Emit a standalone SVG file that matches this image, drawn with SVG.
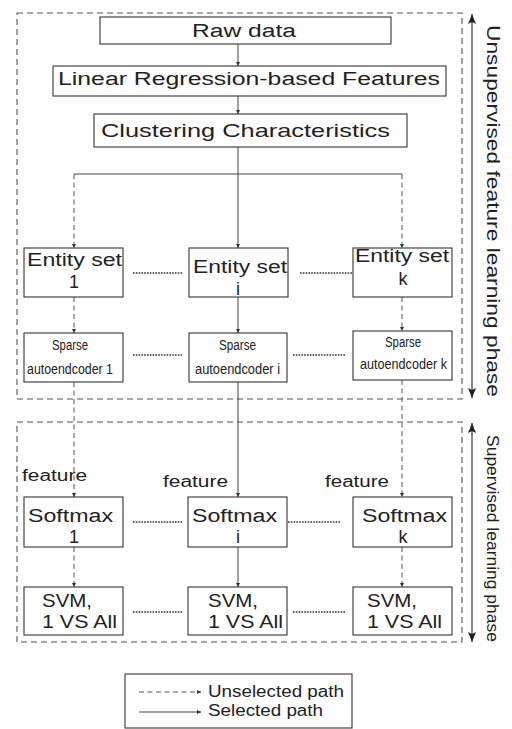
<svg xmlns="http://www.w3.org/2000/svg" width="512" height="729" viewBox="0 0 512 729">
<defs>
<marker id="ah" viewBox="0 0 6 6" refX="6" refY="3" markerWidth="4" markerHeight="4" orient="auto" markerUnits="userSpaceOnUse">
<path d="M0,0 L6,3 L0,6 z" fill="#333"/>
</marker>
<marker id="big" viewBox="0 0 10 10" refX="10" refY="5" markerWidth="10" markerHeight="10" orient="auto" markerUnits="userSpaceOnUse">
<path d="M0,1 L10,5 L0,9 L2,5 z" fill="#222"/>
</marker>
<marker id="bigs" viewBox="0 0 10 10" refX="0" refY="5" markerWidth="10" markerHeight="10" orient="auto" markerUnits="userSpaceOnUse">
<path d="M10,1 L0,5 L10,9 L8,5 z" fill="#222"/>
</marker>
</defs>
<style>
.box{fill:#fff;stroke:#333;stroke-width:1.1}
.frame{fill:none;stroke:#555;stroke-width:1.1;stroke-dasharray:6 4}
.sol{fill:none;stroke:#444;stroke-width:1}
.das{fill:none;stroke:#555;stroke-width:1;stroke-dasharray:5 3.5}
.dot{fill:none;stroke:#333;stroke-width:1.6;stroke-dasharray:1.6 1.2}
text{font-family:"Liberation Sans",Arial,sans-serif;fill:#222}
.t18{font-size:18px}
.t19{font-size:19px}
.t14{font-size:14px}
.t16{font-size:16px}
.mid{text-anchor:middle}
</style>

<g id="frames">
<rect class="frame" x="17" y="13" width="445" height="386"/>
<rect class="frame" x="17" y="422" width="445" height="220"/>
</g>

<g id="phase-arrows">
<line x1="472" y1="14" x2="472" y2="398" stroke="#222" stroke-width="1.1" marker-start="url(#bigs)" marker-end="url(#big)"/>
<line x1="472" y1="423" x2="472" y2="642" stroke="#222" stroke-width="1.1" marker-start="url(#bigs)" marker-end="url(#big)"/>
<text class="t19" x="487" y="25" transform="rotate(90 487 25)" textLength="372" lengthAdjust="spacingAndGlyphs">Unsupervised feature learning phase</text>
<text class="t16" x="487" y="435" transform="rotate(90 487 435)" textLength="207" lengthAdjust="spacingAndGlyphs">Supervised learning phase</text>
</g>

<g id="connectors">
<line class="sol" x1="238" y1="44" x2="238" y2="66" marker-end="url(#ah)"/>
<line class="sol" x1="238" y1="96" x2="238" y2="114" marker-end="url(#ah)"/>
<line class="sol" x1="238" y1="147" x2="238" y2="248" marker-end="url(#ah)"/>
<line class="sol" x1="74" y1="174" x2="402" y2="174"/>
<line class="das" x1="74" y1="174" x2="74" y2="248" marker-end="url(#ah)"/>
<line class="das" x1="402" y1="174" x2="402" y2="248" marker-end="url(#ah)"/>
<line class="das" x1="74" y1="297" x2="74" y2="333" marker-end="url(#ah)"/>
<line class="sol" x1="238" y1="297" x2="238" y2="333" marker-end="url(#ah)"/>
<line class="das" x1="402" y1="297" x2="402" y2="331" marker-end="url(#ah)"/>
<line class="das" x1="74" y1="382" x2="74" y2="497" marker-end="url(#ah)"/>
<line class="sol" x1="238" y1="382" x2="238" y2="497" marker-end="url(#ah)"/>
<line class="das" x1="402" y1="380" x2="402" y2="497" marker-end="url(#ah)"/>
<line class="das" x1="74" y1="547" x2="74" y2="587" marker-end="url(#ah)"/>
<line class="sol" x1="238" y1="547" x2="238" y2="587" marker-end="url(#ah)"/>
<line class="das" x1="402" y1="547" x2="402" y2="587" marker-end="url(#ah)"/>
<line class="dot" x1="133" y1="273" x2="183" y2="273"/>
<line class="dot" x1="300" y1="273" x2="352" y2="273"/>
<line class="dot" x1="133" y1="355" x2="183" y2="355"/>
<line class="dot" x1="293" y1="355" x2="345" y2="355"/>
<line class="dot" x1="133" y1="522" x2="183" y2="522"/>
<line class="dot" x1="288" y1="522" x2="340" y2="522"/>
<line class="dot" x1="133" y1="612" x2="183" y2="612"/>
<line class="dot" x1="293" y1="612" x2="345" y2="612"/>
<text class="t16" x="22" y="481" textLength="65" lengthAdjust="spacingAndGlyphs">feature</text>
<text class="t16" x="163" y="487" textLength="65" lengthAdjust="spacingAndGlyphs">feature</text>
<text class="t16" x="325" y="487" textLength="64" lengthAdjust="spacingAndGlyphs">feature</text>
</g>

<g id="raw-data">
<rect class="box" x="100" y="17" width="291" height="27"/>
<text class="t18" x="192" y="37" textLength="104" lengthAdjust="spacingAndGlyphs">Raw data</text>
</g>
<g id="linear-features">
<rect class="box" x="53" y="66" width="393" height="30"/>
<text class="t18" x="58" y="85" textLength="382" lengthAdjust="spacingAndGlyphs">Linear Regression-based Features</text>
</g>
<g id="clustering">
<rect class="box" x="94" y="114" width="313" height="33"/>
<text class="t19" x="101" y="137" textLength="289" lengthAdjust="spacingAndGlyphs">Clustering Characteristics</text>
</g>

<g id="entity-1">
<rect class="box" x="24" y="248" width="99" height="49"/>
<text class="t18" x="27" y="266" textLength="95" lengthAdjust="spacingAndGlyphs">Entity set</text>
<text class="t18 mid" x="74" y="288">1</text>
</g>
<g id="entity-i">
<rect class="box" x="189" y="248" width="99" height="49"/>
<text class="t18" x="193" y="273" textLength="94" lengthAdjust="spacingAndGlyphs">Entity set</text>
<text class="t18 mid" x="238" y="295">i</text>
</g>
<g id="entity-k">
<rect class="box" x="353" y="248" width="99" height="49"/>
<text class="t18" x="355" y="262" textLength="94" lengthAdjust="spacingAndGlyphs">Entity set</text>
<text class="t18 mid" x="403" y="285">k</text>
</g>

<g id="sparse-1">
<rect class="box" x="24" y="333" width="99" height="49"/>
<text class="t14" x="52" y="350" textLength="36" lengthAdjust="spacingAndGlyphs">Sparse</text>
<text class="t14" x="27" y="374" textLength="86" lengthAdjust="spacingAndGlyphs">autoendcoder 1</text>
</g>
<g id="sparse-i">
<rect class="box" x="189" y="333" width="98" height="49"/>
<text class="t14" x="219" y="350" textLength="37" lengthAdjust="spacingAndGlyphs">Sparse</text>
<text class="t14" x="195" y="374" textLength="85" lengthAdjust="spacingAndGlyphs">autoendcoder i</text>
</g>
<g id="sparse-k">
<rect class="box" x="353" y="331" width="99" height="49"/>
<text class="t14" x="385" y="347" textLength="36" lengthAdjust="spacingAndGlyphs">Sparse</text>
<text class="t14" x="360" y="369" textLength="87" lengthAdjust="spacingAndGlyphs">autoendcoder k</text>
</g>

<g id="softmax-1">
<rect class="box" x="24" y="497" width="99" height="50"/>
<text class="t18" x="28" y="522" textLength="85" lengthAdjust="spacingAndGlyphs">Softmax</text>
<text class="t18 mid" x="74" y="543">1</text>
</g>
<g id="softmax-i">
<rect class="box" x="188" y="497" width="99" height="50"/>
<text class="t18" x="192" y="522" textLength="85" lengthAdjust="spacingAndGlyphs">Softmax</text>
<text class="t18 mid" x="238" y="543">i</text>
</g>
<g id="softmax-k">
<rect class="box" x="353" y="497" width="99" height="50"/>
<text class="t18" x="362" y="522" textLength="85" lengthAdjust="spacingAndGlyphs">Softmax</text>
<text class="t18 mid" x="403" y="543">k</text>
</g>

<g id="svm-1">
<rect class="box" x="24" y="587" width="99" height="48"/>
<text class="t18" x="42" y="607" textLength="50" lengthAdjust="spacingAndGlyphs">SVM,</text>
<text class="t18" x="42" y="628" textLength="75" lengthAdjust="spacingAndGlyphs">1 VS All</text>
</g>
<g id="svm-i">
<rect class="box" x="188" y="587" width="99" height="48"/>
<text class="t18" x="208" y="607" textLength="50" lengthAdjust="spacingAndGlyphs">SVM,</text>
<text class="t18" x="208" y="628" textLength="75" lengthAdjust="spacingAndGlyphs">1 VS All</text>
</g>
<g id="svm-k">
<rect class="box" x="353" y="587" width="99" height="48"/>
<text class="t18" x="367" y="607" textLength="50" lengthAdjust="spacingAndGlyphs">SVM,</text>
<text class="t18" x="367" y="628" textLength="75" lengthAdjust="spacingAndGlyphs">1 VS All</text>
</g>

<g id="legend">
<rect class="box" x="125" y="674" width="227" height="54"/>
<line class="das" x1="139" y1="692" x2="201" y2="692" stroke-dasharray="4 2.5" marker-end="url(#ah)"/>
<line class="sol" x1="139" y1="712" x2="201" y2="712" marker-end="url(#ah)"/>
<text class="t16" x="208" y="697" textLength="136" lengthAdjust="spacingAndGlyphs">Unselected path</text>
<text class="t16" x="208" y="716" textLength="115" lengthAdjust="spacingAndGlyphs">Selected path</text>
</g>
</svg>
